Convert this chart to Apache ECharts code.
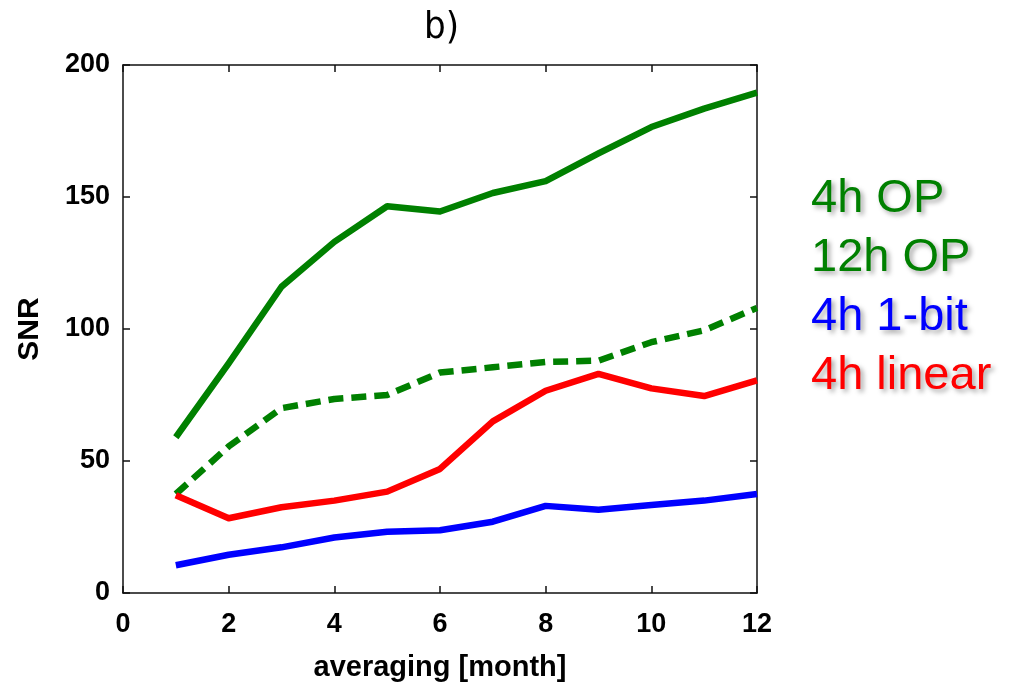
<!DOCTYPE html>
<html>
<head>
<meta charset="utf-8">
<script src="https://cdn.jsdelivr.net/npm/echarts@6/dist/echarts.min.js"></script>
<style>html,body{margin:0;padding:0;background:#fff;}#c{width:1018px;height:688px;}</style>
</head>
<body>
<div id="c"></div>
<script>
const months = [1, 2, 3, 4, 5, 6, 7, 8, 9, 10, 11, 12];
const op4h = [59, 87, 116, 133, 146.5, 144.5, 151.5, 156, 166.5, 176.5, 183.5, 189.5];
const op12h = [37.5, 55.5, 70, 73.5, 75, 83.5, 85.5, 87.5, 88, 95, 99.5, 108];
const bit1 = [10.5, 14.5, 17.3, 21, 23.2, 23.8, 27, 33, 31.5, 33.3, 35, 37.5];
const linear4h = [37, 28.3, 32.5, 35, 38.4, 47, 65, 76.6, 83, 77.5, 74.6, 80.5];
const seriesNames = ['4h OP', '12h OP', '4h 1-bit', '4h linear'];
const seriesColors = ['#008000', '#008000', '#0000ff', '#ff0000'];
const titleText = 'b)';
const xName = 'averaging [month]';
const yName = 'SNR';

const pairs = arr => months.map((m, i) => [m, arr[i]]);
const values = [op4h, op12h, bit1, linear4h];

const chart = echarts.init(document.getElementById('c'), null, {renderer: 'canvas'});
const axisLine = {show: true, onZero: false, lineStyle: {color: '#111', width: 1.5}};
const tickIn = {show: true, inside: true, length: 7, lineStyle: {color: '#111', width: 1.5}};
const labelFont = {color: '#000', fontFamily: 'Liberation Sans', fontWeight: 'bold', fontSize: 27};

chart.setOption({
  animation: false,
  backgroundColor: '#fff',
  title: {
    text: titleText, left: 419, top: 4,
    textStyle: {fontFamily: "'Liberation Sans Narrow', 'DejaVu Sans Condensed', 'DejaVu Sans', sans-serif", fontWeight: 'normal', fontSize: 38, color: '#000'}
  },
  legend: {
    orient: 'vertical', left: 806, top: 170, padding: 0, itemGap: 0,
    itemWidth: 0, itemHeight: 0, icon: 'none', selectedMode: false,
    data: seriesNames.map((n, i) => ({
      name: n,
      textStyle: {color: seriesColors[i]}
    })),
    textStyle: {
      fontFamily: 'Liberation Sans', fontSize: 47, lineHeight: 59,
      textShadowColor: 'rgba(0,0,0,0.35)', textShadowBlur: 5, textShadowOffsetX: 3, textShadowOffsetY: 3
    }
  },
  grid: {left: 123, right: 261, top: 65, bottom: 95, containLabel: false},
  xAxis: [{
    type: 'value', min: 0, max: 12, interval: 2, position: 'bottom',
    name: xName, nameLocation: 'middle', nameGap: 60,
    nameTextStyle: {color: '#000', fontFamily: 'Liberation Sans', fontWeight: 'bold', fontSize: 29},
    axisLine: axisLine, axisTick: tickIn, splitLine: {show: false},
    axisLabel: Object.assign({margin: 18}, labelFont)
  }, {
    type: 'value', min: 0, max: 12, interval: 2, position: 'top',
    axisLine: axisLine, axisTick: tickIn, splitLine: {show: false}, axisLabel: {show: false}
  }],
  yAxis: [{
    type: 'value', min: 0, max: 200, interval: 50, position: 'left',
    name: yName, nameLocation: 'middle', nameGap: 78, nameRotate: 90,
    nameTextStyle: {color: '#000', fontFamily: 'Liberation Sans', fontWeight: 'bold', fontSize: 30},
    axisLine: axisLine, axisTick: tickIn, splitLine: {show: false},
    axisLabel: Object.assign({margin: 13}, labelFont)
  }, {
    type: 'value', min: 0, max: 200, interval: 50, position: 'right',
    axisLine: axisLine, axisTick: tickIn, splitLine: {show: false}, axisLabel: {show: false}
  }],
  series: seriesNames.map((n, i) => ({
    name: n, type: 'line', data: pairs(values[i]),
    showSymbol: false, symbol: 'none', color: seriesColors[i],
    lineStyle: {color: seriesColors[i], width: 6.5, type: i === 1 ? [15, 8] : 'solid', cap: 'butt', join: 'round'},
    z: 3
  }))
});
</script>
</body>
</html>
